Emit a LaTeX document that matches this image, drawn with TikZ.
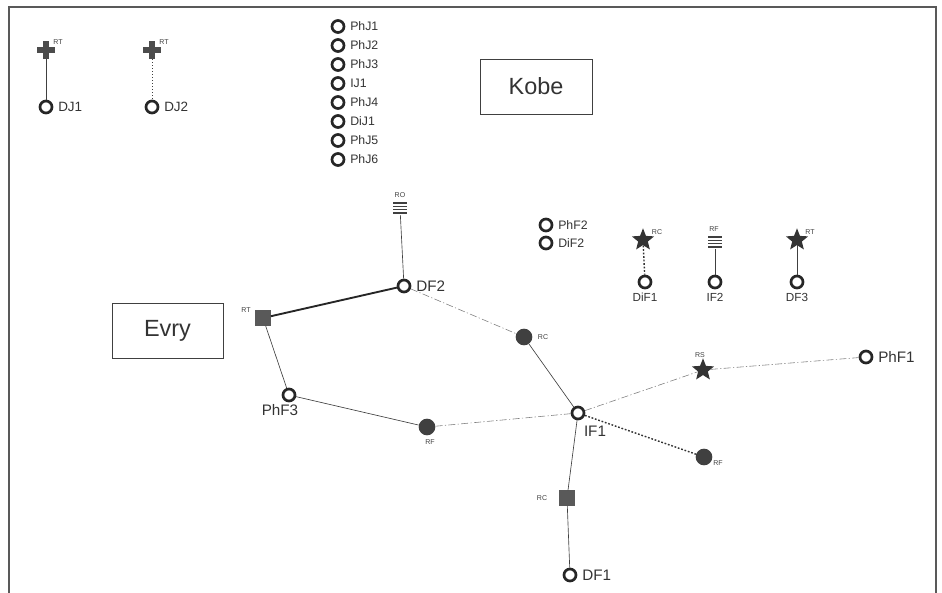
\documentclass[tikz,border=0pt]{standalone}
\usepackage{fontspec}
\setmainfont{Liberation Sans}
\usetikzlibrary{positioning, calc}
\usetikzlibrary{shapes.geometric}

\begin{document}
\begin{tikzpicture}[x=0.03cm, y=-0.03cm,
    site/.style={circle, draw=black!85, line width=2.3pt, minimum size=0.36cm, inner sep=0pt},
    dot/.style={circle, fill=black!75, minimum size=0.50cm, inner sep=0pt},
    blk/.style={rectangle, fill=black!65, minimum size=0.46cm, inner sep=0pt},
    starr/.style={star, star points=5, star point ratio=2.3, fill=black!80, minimum size=0.70cm, inner sep=0pt},
    bars/.style={rectangle, minimum width=0.42cm, minimum height=0.42cm, inner sep=0pt,
      path picture={\foreach \k in {0.14,0.38,0.62,0.86}
        \draw[black!75, line width=1.3pt] ($(path picture bounding box.south west)!\k!(path picture bounding box.north west)$) -- ++(0.42cm,0);}},
    cross/.style={rectangle, minimum size=0.54cm, inner sep=0pt,
      path picture={\fill[black!70] ([xshift=-0.09cm]path picture bounding box.south) rectangle ([xshift=0.09cm]path picture bounding box.north);
        \fill[black!70] ([yshift=-0.08cm]path picture bounding box.west) rectangle ([yshift=0.08cm]path picture bounding box.east);}},
    lbl/.style={font=\fontsize{13}{14}\selectfont, text=black!80, inner sep=1pt},
    lbm/.style={font=\fontsize{11.5}{13}\selectfont, text=black!80, inner sep=1pt},
    lbs/.style={font=\fontsize{10}{12}\selectfont, text=black!80, inner sep=1pt},
    lst/.style={font=\fontsize{10.5}{12}\selectfont, text=black!80, inner sep=1pt},
    tag/.style={font=\fontsize{6}{7}\selectfont, text=black!75, inner sep=0.5pt},
    town/.style={draw=black!75, line width=0.8pt, font=\fontsize{20}{22}\selectfont, text=black!80, align=center},
    thin/.style={draw=black!75, line width=0.55pt},
    thick/.style={draw=black!85, line width=1.6pt},
    dashdot/.style={draw=black!50, line width=0.5pt, dash pattern=on 6pt off 2pt on 1pt off 2pt},
    dots/.style={draw=black!80, line width=1.2pt, dash pattern=on 1.5pt off 1.5pt}]

\useasboundingbox (0,0) rectangle (942,593);

% FRAME
\draw[black!65, line width=1pt] (9,593) -- (9,7) -- (936,7) -- (936,593);

% TOWNS
\node[town, minimum width=3.36cm, minimum height=1.65cm] (kobe) at (536,86.5) {Kobe};
\node[town, minimum width=3.33cm, minimum height=1.65cm] (evry) at (167.5,330.5) {Evry};

% ISOLATED SITES
\node[cross] (dj1rt) at (46,50) {};
\node[tag] at (58,42) {RT};
\node[site] (dj1) at (46,107) {};
\node[lbm, right=3pt of dj1] {DJ1};

\node[cross] (dj2rt) at (152,50) {};
\node[tag] at (164,42) {RT};
\node[site] (dj2) at (152,107) {};
\node[lbm, right=3pt of dj2] {DJ2};

\foreach \name [count=\i] in {PhJ1,PhJ2,PhJ3,IJ1,PhJ4,DiJ1,PhJ5,PhJ6} {
  \node[site] (j\i) at (338,{7.5+19*\i}) {};
  \node[lst, right=3pt of j\i] {\name};
}

\node[site] (phf2) at (546,225) {};
\node[lst, right=3pt of phf2] {PhF2};
\node[site] (dif2) at (546,243) {};
\node[lst, right=3pt of dif2] {DiF2};

\node[starr] (dif1rc) at (643,240) {};
\node[tag] at (657,232) {RC};
\node[site] (dif1) at (645,282) {};
\node[lbs, below=2pt of dif1] {DiF1};

\node[bars] (if2rf) at (715,242) {};
\node[tag] at (714,229) {RF};
\node[site] (if2) at (715,282) {};
\node[lbs, below=2pt of if2] {IF2};

\node[starr] (df3rt) at (797,240) {};
\node[tag] at (810,232) {RT};
\node[site] (df3) at (797,282) {};
\node[lbs, below=2pt of df3] {DF3};

% NETWORK
\node[bars] (ro) at (400,208) {};
\node[tag] at (400,195) {RO};
\node[site] (df2) at (404,286) {};
\node[lbl, right=3pt of df2] {DF2};
\node[blk] (rt) at (263,318) {};
\node[tag] at (246,310) {RT};
\node[site] (phf3) at (289,395) {};
\node[lbl] at (280,410) {PhF3};
\node[dot] (rf1) at (427,427) {};
\node[tag] at (430,442) {RF};
\node[dot] (rc1) at (524,337) {};
\node[tag] at (543,337) {RC};
\node[site] (if1) at (578,413) {};
\node[lbl] at (595,431) {IF1};
\node[starr] (rs) at (703,370) {};
\node[tag] at (700,355) {RS};
\node[site] (phf1) at (866,357) {};
\node[lbl, right=3pt of phf1] {PhF1};
\node[dot] (rf2) at (704,457) {};
\node[tag] at (718,463) {RF};
\node[blk] (rc2) at (567,498) {};
\node[tag] at (542,498) {RC};
\node[site] (df1) at (570,575) {};
\node[lbl, right=3pt of df1] {DF1};

% LINKS
\path[thin] (dj1rt) -- (dj1);
\path[thin, dotted] (dj2rt) -- (dj2);
\path[dots] (dif1rc) -- (dif1);
\path[thin] (if2rf) -- (if2);
\path[thin] (df3rt) -- (df3);

\path[thin] (ro) -- (df2);
\path[thick] (df2) -- (rt);
\path[thin] (rt) -- (phf3);
\path[thin] (phf3) -- (rf1);
\path[dashdot] (rf1) -- (if1);
\path[dashdot] (df2) -- (rc1);
\path[thin] (rc1) -- (if1);
\path[dashdot] (if1) -- (rs);
\path[dashdot] (rs) -- (phf1);
\path[dots] (if1) -- (rf2);
\path[thin] (if1) -- (rc2);
\path[thin] (rc2) -- (df1);

\end{tikzpicture}
\end{document}
